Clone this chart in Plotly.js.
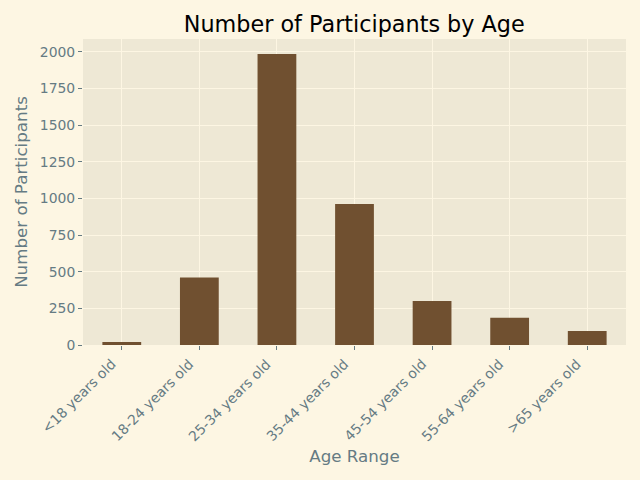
<!DOCTYPE html>
<html>
<head>
<meta charset="utf-8">
<script src="https://cdn.plot.ly/plotly-3.0.1.min.js"></script>
<style>html,body{margin:0;padding:0;background:#FDF6E3;}</style>
</head>
<body>
<div id="chart" style="width:640px;height:480px;"></div>
<script>
const ageRanges = ["<18 years old", "18-24 years old", "25-34 years old", "35-44 years old", "45-54 years old", "55-64 years old", ">65 years old"];
const participants = [20, 460, 1985, 962, 300, 185, 95];
const yTicks = [0, 250, 500, 750, 1000, 1250, 1500, 1750, 2000];

const trace = {
  type: "bar",
  x: ageRanges,
  y: participants,
  width: 0.5,
  marker: {color: "#705030"},
  hoverinfo: "x+y"
};

const font = "DejaVu Sans, sans-serif";
const labelColor = "#657b83";

// rotated category labels, right/top anchored at each tick like matplotlib ha='right'
const tickLabels = ageRanges.map(c => ({
  xref: "x", yref: "paper", x: c, y: 0,
  text: c, showarrow: false, textangle: -45,
  xanchor: "right", yanchor: "top",
  xshift: 0, yshift: -8,
  font: {family: font, size: 13.9, color: labelColor}
}));

const layout = {
  width: 640, height: 480,
  paper_bgcolor: "#FDF6E3",
  plot_bgcolor: "#EEE8D5",
  margin: {l: 83, r: 14, t: 39, b: 135},
  showlegend: false,
  title: {text: "Number of Participants by Age", font: {family: font, size: 22.3, color: "#000000"}, x: 0.5535, xanchor: "center", y: 0.95, yanchor: "middle"},
  xaxis: {
    type: "category",
    range: [-0.5, 6.5],
    showticklabels: false,
    ticks: "outside", ticklen: 4, tickcolor: labelColor, tickwidth: 1,
    showgrid: true, gridcolor: "#FDF6E3", gridwidth: 1,
    zeroline: false, showline: false,
    title: {text: "Age Range", font: {family: font, size: 16.7, color: labelColor}, standoff: 101}
  },
  yaxis: {
    range: [0, 2087],
    tickvals: yTicks,
    ticktext: yTicks.map(String),
    tickfont: {family: font, size: 13.9, color: labelColor},
    ticks: "outside", ticklen: 4, tickcolor: labelColor, tickwidth: 1,
    showgrid: true, gridcolor: "#FDF6E3", gridwidth: 1,
    zeroline: false, showline: false,
    title: {text: "Number of Participants", font: {family: font, size: 16.7, color: labelColor}, standoff: 8}
  },
  annotations: tickLabels
};

Plotly.newPlot("chart", [trace], layout, {displayModeBar: false, staticPlot: true});
</script>
</body>
</html>
